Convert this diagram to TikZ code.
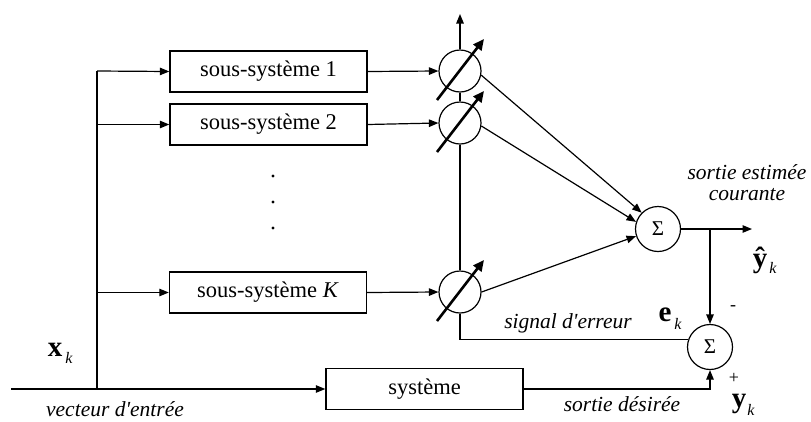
\documentclass[tikz,border=0pt]{standalone}
\usepackage{fontspec}
\setmainfont{Liberation Serif}
\usetikzlibrary{arrows.meta}
\begin{document}
\begin{tikzpicture}[x=1pt,y=-1pt,
  line width=1.2pt,
  arr/.style={-{Triangle[length=9.5pt,width=7.5pt]}},
  bigarr/.style={line width=2.6pt,-{Triangle[length=11pt,width=10pt]}},
  blk/.style={draw,line width=1.4pt,rectangle,minimum width=197pt,minimum height=41pt,inner sep=0pt,font=\fontsize{22.5}{25}\selectfont},
  mul/.style={draw,circle,minimum size=42pt,inner sep=0pt},
  sumn/.style={draw,circle,minimum size=45pt,inner sep=0pt,font=\fontsize{21}{23}\selectfont},
  lbl/.style={font=\fontsize{21.5}{24}\selectfont\itshape,inner sep=0pt},
  bld/.style={inner sep=0pt,font=\fontsize{29}{32}\selectfont\bfseries},
  sub/.style={inner sep=0pt,font=\fontsize{16}{18}\selectfont\itshape},
  dotn/.style={circle,fill,inner sep=0pt,minimum size=3.4pt}
]
\useasboundingbox (0,0) rectangle (811,421);
% blocks
\node[blk] (b1) at (268.5,71.5) {sous-système 1};
\node[blk] (b2) at (268.5,124.5) {sous-système 2};
\node[blk] (bK) at (268,292.5) {sous-système \textit{K}};
\node[blk] (sys) at (424.5,389) {système};
% multipliers
\node[mul] (m1) at (460,71) {};
\node[mul] (m2) at (460,123) {};
\node[mul] (mK) at (460,292) {};
% sums
\node[sumn] (s1) at (658,229) {Σ};
\node[sumn] (s2) at (710,347) {Σ};
% dots
\node[dotn] (d1) at (273,176) {};
\node[dotn] (d2) at (273,202) {};
\node[dotn] (d3) at (273,228) {};
% coordinates
\coordinate (in) at (11,389);
\coordinate (sp) at (97,389);
\coordinate (top) at (97,71);
\coordinate (up) at (460,14);
\coordinate (yo) at (752,229);
\coordinate (br) at (710,229);
% input
\draw[arr] (in) -- (sys.west);
\draw (sp) -- (top);
\draw[arr] (top) -- (b1.west);
\draw[arr] (sp |- b2.west) -- (b2.west);
\draw[arr] (sp |- bK.west) -- (bK.west);
% blocks to multipliers
\draw[arr] (b1.east) -- (m1.west);
\draw[arr] (b2.east) -- (m2.west);
\draw[arr] (bK.east) -- (mK.west);
% weights chain
\draw[arr] (m1.north) -- (up);
\draw (m1.south) -- (m2.north);
\draw (m2.south) -- (mK.north);
\draw (mK.south) |- (s2.160);
% adjustable arrows
\foreach \m in {m1,m2,mK}
  \draw[bigarr] ([shift={(-23,29)}]\m.center) -- ([shift={(24,-32)}]\m.center);
% to sum
\draw[arr] (m1.-11) -- (s1.135);
\draw[arr] (m2.-8) -- (s1.162);
\draw[arr] (mK.0) -- (s1.198);
% output
\draw[arr] (s1.east) -- (yo);
\draw[arr] (br) -- (s2.north);
\draw[arr] (sys.east) -| (s2.south);
% labels
\node[lbl] (lin) at (115,409) {vecteur d\textquotesingle entrée};
\node[lbl] (lerr) at (568,323) {signal d\textquotesingle erreur};
\node[lbl] (ldes) at (622,404) {sortie désirée};
\node[lbl] (lest1) at (747,172) {sortie estimée};
\node[lbl] (lest2) at (747,195) {courante};
\node[bld] (xk) at (55,350) {x};
\node[sub] (xks) at (69,358) {k};
\node[bld] (ek) at (665,315) {e};
\node[sub] (eks) at (678,324) {k};
\node[bld] (yh) at (760,260) {ŷ};
\node[sub] (yhs) at (773,268) {k};
\node[bld] (yk) at (739,404) {y};
\node[sub] (yks) at (751,410) {k};
\node[font=\fontsize{18}{20}\selectfont,inner sep=0pt] (minus) at (733,308) {-};
\node[font=\fontsize{18}{20}\selectfont,inner sep=0pt] (plus) at (734,378) {+};
\end{tikzpicture}
\end{document}
